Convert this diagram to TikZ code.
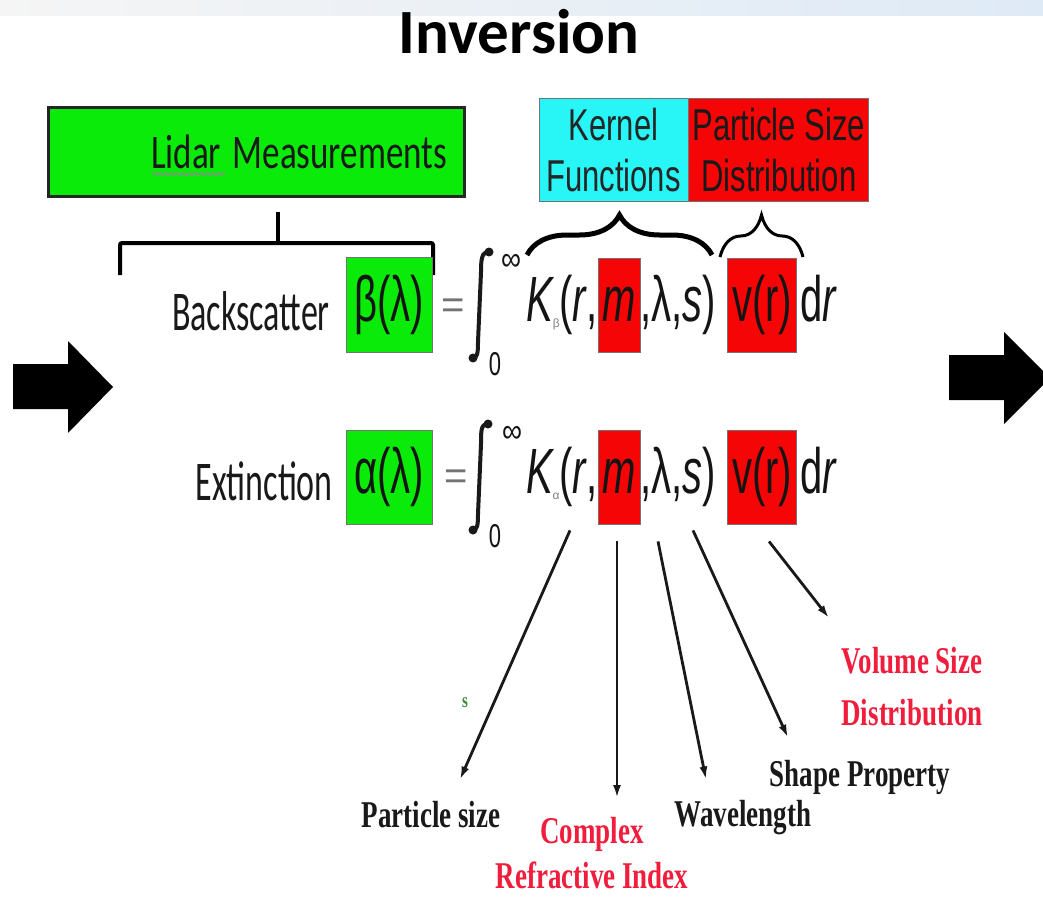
\documentclass[tikz,border=0pt]{standalone}
\usepackage{fontspec}
\setmainfont{Liberation Sans}
\newfontfamily\calfont{Carlito}
\newfontfamily\timesfont{Liberation Serif}
\usetikzlibrary{arrows.meta, calc, positioning, decorations.pathreplacing, decorations.pathmorphing}

\definecolor{boxgreen}{RGB}{10,235,10}
\definecolor{boxcyan}{RGB}{40,245,245}
\definecolor{boxred}{RGB}{245,5,5}
\definecolor{labred}{RGB}{240,30,60}
\definecolor{sgreen}{RGB}{60,140,60}
\definecolor{stripblue}{RGB}{222,234,246}

\newcommand{\vs}[2]{\scalebox{1}[#1]{#2}}
\newcommand{\twoline}[2]{\begin{tabular}{@{}c@{}}#1\\#2\end{tabular}}

\begin{document}
\begin{tikzpicture}[x=1pt, y=-1pt, >={Latex[length=13pt, width=8pt]},
  hdbox/.style={draw=black!55, line width=0.8pt, inner sep=0pt},
  headbox/.style={hdbox, minimum height=103pt, font=\fontsize{31}{35}\selectfont, text depth=29pt},
  eqtxt/.style={font=\fontsize{40}{40}\selectfont, text=black!92, inner sep=0pt},
  eqbox/.style={hdbox, eqtxt, text height=46pt, text depth=14pt},
  lab/.style={font=\timesfont\bfseries\fontsize{27}{32}\selectfont, text=black!90, inner sep=0pt},
  ptr/.style={->, line width=2.8pt, black!90},
  bigbrace/.style={decorate, decoration={brace, amplitude=#1}},
  intball/.style={fill=black!90}]
  \useasboundingbox (0,0) rectangle (1043,896);
  \shade[left color=black!4, right color=stripblue] (0,0) rectangle (1043,16);

  \node[font=\calfont\bfseries\fontsize{63}{63}\selectfont, inner sep=0pt, anchor=base] (title) at (519,54) {Inversion};

  % block arrows
  \fill (13,364) -- (68,364) -- (68,341) -- (113,387) -- (68,433) -- (68,409) -- (13,409) -- cycle;
  \fill (949,355) -- (1004,355) -- (1004,332) -- (1050,378) -- (1004,424) -- (1004,400) -- (949,400) -- cycle;

  % header boxes
  \node[hdbox, draw=black!85, line width=3pt, fill=boxgreen, inner xsep=17pt, text width=382pt, align=right,
        minimum height=88pt, font=\calfont\fontsize{35}{35}\selectfont, text=black!90] (lidar) at (256,152) {\vs{1.38}{Lidar Measurements}};
  \draw[black!45, line width=1pt, decorate, decoration={snake, amplitude=1pt, segment length=3pt}] (152,174) -- (225,174);
  \node[headbox, fill=boxcyan, minimum width=149pt, text=black!85] (kern) at (613.5,149.5) {\vs{1.44}{\twoline{Kernel}{Functions}}};
  \node[headbox, fill=boxred, minimum width=180pt, right=0pt of kern, text=black!90] (psd) {\vs{1.44}{\twoline{Particle Size}{Distribution}}};

  % brackets
  \draw[line width=4pt, rounded corners=2pt] (120,275) -- (120,243) -- (433,243) -- (433,275);
  \draw[line width=4pt] ($(lidar.south)+(22,14)$) -- (278,243);
  \draw[line width=5pt, bigbrace=40pt] (527,255) -- (712,255);
  \draw[line width=3pt, bigbrace=42pt] (720,257) -- (803,257);

  % backscatter row
  \node[anchor=base east, font=\calfont\fontsize{34}{34}\selectfont, text=black!90, inner sep=0pt] (bs) at (330,330) {\vs{1.65}{Backscatter}};
  \node[eqbox, fill=boxgreen, minimum width=86pt, minimum height=95pt] (beta) at (389,305) {\vs{1.6}{β(λ)}};
  \node[eqtxt, text=black!55] (eq1) at (453,309) {=};
  \draw[line width=4pt, black!90] (489,252) .. controls (482,252) and (481,258) .. (481,272) -- (478,342) .. controls (478,354) and (477,358) .. (473,358);
  \fill[intball] (489,252) circle (4.5pt);
  \fill[intball] (473,358) circle (4.5pt);
  \node[eqtxt, font=\fontsize{28}{28}\selectfont] (inf1) at (511,262) {\vs{1.2}{∞}};
  \node[eqtxt, font=\fontsize{22}{22}\selectfont] (low1) at (495,364) {\vs{1.5}{0}};
  \node[eqbox, fill=boxred, minimum width=42pt, minimum height=94pt] (m1) at (619,305) {\vs{1.6}{\itshape m}};
  \node[eqtxt, anchor=base east] (k1) at (m1.base west) {\vs{1.6}{\itshape K}\raisebox{-6pt}{\fontsize{12}{12}\selectfont\color{black!50}β}\vs{1.6}{(\itshape r\upshape,}};
  \node[eqtxt, anchor=base west] (l1) at (m1.base east) {\vs{1.6}{,λ,\itshape s\upshape)}};
  \node[eqbox, fill=boxred, minimum width=69pt, minimum height=94pt] (v1) at (762,305) {\vs{1.6}{v(r)}};
  \node[eqtxt, anchor=base west] (d1) at ([xshift=3pt]v1.base east) {\vs{1.6}{d\itshape r}};

  % extinction row
  \node[anchor=base east, font=\calfont\fontsize{34}{34}\selectfont, text=black!90, inner sep=0pt] (ex) at (333,500) {\vs{1.65}{Extinction}};
  \node[eqbox, fill=boxgreen, minimum width=86pt, minimum height=94pt] (alpha) at (389,477) {\vs{1.6}{α(λ)}};
  \node[eqtxt, text=black!55] (eq2) at (456,480) {=};
  \draw[line width=4pt, black!90] (488,424) .. controls (481,424) and (481,430) .. (481,444) -- (478,514) .. controls (478,526) and (477,530) .. (473,530);
  \fill[intball] (488,424) circle (4.5pt);
  \fill[intball] (473,530) circle (4.5pt);
  \node[eqtxt, font=\fontsize{28}{28}\selectfont] (inf2) at (512,434) {\vs{1.2}{∞}};
  \node[eqtxt, font=\fontsize{22}{22}\selectfont] (low2) at (495,536) {\vs{1.5}{0}};
  \node[eqbox, fill=boxred, minimum width=42pt, minimum height=94pt] (m2) at (619,477) {\vs{1.6}{\itshape m}};
  \node[eqtxt, anchor=base east] (k2) at (m2.base west) {\vs{1.6}{\itshape K}\raisebox{-6pt}{\fontsize{12}{12}\selectfont\color{black!50}α}\vs{1.6}{(\itshape r\upshape,}};
  \node[eqtxt, anchor=base west] (l2) at (m2.base east) {\vs{1.6}{,λ,\itshape s\upshape)}};
  \node[eqbox, fill=boxred, minimum width=69pt, minimum height=94pt] (v2) at (762,477) {\vs{1.6}{v(r)}};
  \node[eqtxt, anchor=base west] (d2) at ([xshift=3pt]v2.base east) {\vs{1.6}{d\itshape r}};

  % parameter labels
  \node[lab] (psize) at (431,815) {\vs{1.4}{Particle size}};
  \node[lab, text=labred] (cri) at (592,857) {\vs{1.4}{\twoline{Complex}{Refractive Index}}};
  \node[lab] (wave) at (743,818) {\vs{1.4}{Wavelength}};
  \node[lab] (shape) at (860,777) {\vs{1.4}{Shape Property}};
  \node[lab, text=labred, font=\timesfont\bfseries\fontsize{27}{37}\selectfont] (vsd) at (912,689) {\vs{1.4}{\twoline{Volume Size}{Distribution}}};
  \node[lab, text=sgreen, font=\timesfont\bfseries\fontsize{15}{15}\selectfont] (sgr) at (465,703) {\vs{1.4}{s}};

  \draw[ptr] ($(m2.south)+(-49,6)$) -- ($(psize.north)+(29,-22)$);
  \draw[ptr] ($(m2.south)+(-2,17)$) -- ($(cri.north)+(25,-14)$);
  \draw[ptr] ($(m2.south)+(39,17)$) -- ($(wave.north)+(-37,-21)$);
  \draw[ptr] ($(m2.south)+(74,6)$) -- ($(shape.north)+(-72,-22)$);
  \draw[ptr] ($(v2.south)+(7,17)$) -- ($(vsd.north)+(-83,-19)$);
\end{tikzpicture}
\end{document}
